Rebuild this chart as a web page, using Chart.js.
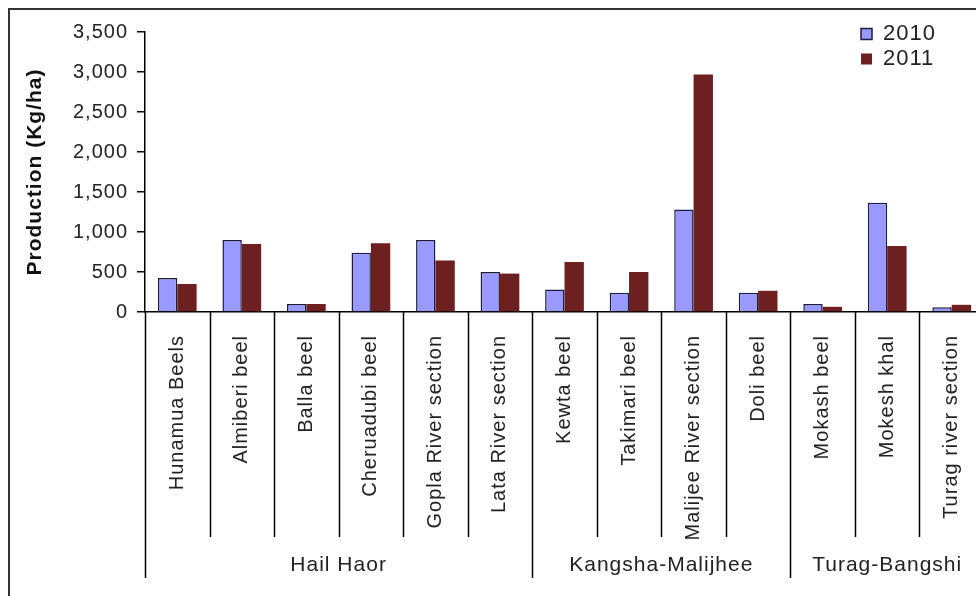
<!DOCTYPE html>
<html>
<head>
<meta charset="utf-8">
<script src="https://cdn.jsdelivr.net/npm/chart.js@4.4.1/dist/chart.umd.min.js"></script>
<style>
    html, body { margin: 0; padding: 0; width: 976px; height: 596px; overflow: hidden; background: #fff; }
    #frame { position: absolute; left: 8px; top: 8px; width: 1100px; height: 700px; border: 2px solid #333; }
    #wrap { position: absolute; left: 0; top: 0; width: 1000px; height: 596px; }
</style>
</head>
<body>
<div id="frame"></div>
<div id="wrap"><canvas id="productionChart"></canvas></div>
<script>
const categories = ['Hunamua Beels', 'Almiberi beel', 'Balla beel', 'Cheruadubi beel', 'Gopla River section',
    'Lata River section', 'Kewta beel', 'Takimari beel', 'Malijee River section', 'Doli beel',
    'Mokash beel', 'Mokesh khal', 'Turag river section'];
const groups = ['Hail Haor', 'Kangsha-Malijhee', 'Turag-Bangshi'];
const groupSizes = [6, 4, 3];
const years = ['2010', '2011'];
const values2010 = [425, 900, 100, 740, 900, 500, 280, 240, 1280, 240, 100, 1365, 60];
const values2011 = [350, 850, 100, 860, 645, 480, 625, 500, 2970, 265, 65, 825, 90];
const yTicks = [0, 500, 1000, 1500, 2000, 2500, 3000, 3500];

const FONT = '"Liberation Sans", Arial, sans-serif';

// group boundaries as category indexes: 0, 6, 10, 13
const bounds = [0];
groupSizes.forEach(n => bounds.push(bounds[bounds.length - 1] + n));

// divider lines under the axis + group names (second level of the category axis)
const axisDecor = {
    id: 'axisDecor',
    beforeLayout(chart) {
        chart.ctx.letterSpacing = '1px';
    },
    beforeDraw(chart) {
        chart.ctx.letterSpacing = '1px';
        chart.legend.left = 858;
        chart.legend.top = 20;
    },
    afterDraw(chart) {
        const ctx = chart.ctx;
        const x = chart.scales.x;
        const base = chart.chartArea.bottom;
        ctx.save();
        ctx.strokeStyle = '#000';
        ctx.lineWidth = 1.5;
        for (let i = 0; i <= categories.length; i++) {
            const px = Math.round(x.getPixelForValue(i - 0.5)) + 0.5;
            const end = bounds.includes(i) ? base + 266 : base + 225;
            ctx.beginPath();
            ctx.moveTo(px, base);
            ctx.lineTo(px, end);
            ctx.stroke();
        }
        ctx.font = '21px ' + FONT;
        ctx.fillStyle = '#222';
        ctx.textAlign = 'center';
        ctx.textBaseline = 'middle';
        groups.forEach((g, k) => {
            const a = x.getPixelForValue(bounds[k] - 0.5);
            const b = x.getPixelForValue(bounds[k + 1] - 0.5);
            ctx.fillText(g, (a + b) / 2, base + 253);
        });
        ctx.restore();
    }
};

const ctx = document.getElementById('productionChart').getContext('2d');
new Chart(ctx, {
    type: 'bar',
    data: {
        labels: categories,
        datasets: [
            {
                label: years[0],
                data: values2010,
                backgroundColor: '#9999FF',
                borderColor: '#1c1c40',
                borderWidth: 1.5,
                categoryPercentage: 0.6,
                barPercentage: 1
            },
            {
                label: years[1],
                data: values2011,
                backgroundColor: '#6E1F1F',
                borderColor: '#6E1F1F',
                borderWidth: 0,
                categoryPercentage: 0.6,
                barPercentage: 1
            }
        ]
    },
    options: {
        responsive: true,
        maintainAspectRatio: false,
        animation: false,
        layout: {
            padding: { left: 0, top: 32, right: 16, bottom: 0 }
        },
        plugins: {
            legend: {
                position: 'chartArea',
                align: 'start',
                labels: {
                    boxWidth: 11,
                    boxHeight: 11,
                    padding: 3,
                    color: '#222',
                    font: { family: FONT, size: 22 }
                }
            },
            tooltip: { enabled: false }
        },
        scales: {
            x: {
                grid: { display: false },
                border: { display: true, color: '#000', width: 1.5 },
                ticks: {
                    autoSkip: false,
                    minRotation: 90,
                    maxRotation: 90,
                    padding: 15,
                    color: '#222',
                    font: { family: FONT, size: 20 }
                },
                afterFit: function(scale) {
                    scale.height = 284;
                }
            },
            y: {
                min: 0,
                max: 3500,
                afterBuildTicks: function(scale) {
                    scale.ticks = yTicks.map(v => ({ value: v }));
                },
                grid: {
                    drawOnChartArea: false,
                    drawTicks: true,
                    tickLength: 8,
                    color: '#000',
                    lineWidth: 1.5
                },
                border: { display: true, color: '#000', width: 1.5 },
                ticks: {
                    padding: 9,
                    color: '#222',
                    font: { family: FONT, size: 20 },
                    callback: function(value) {
                        return value.toLocaleString('en-US');
                    }
                },
                title: {
                    display: true,
                    text: 'Production (Kg/ha)',
                    color: '#111',
                    padding: { top: 23, bottom: 0 },
                    font: { family: FONT, size: 21, weight: 'bold' }
                },
                afterFit: function(scale) {
                    scale.width = 145;
                }
            }
        }
    },
    plugins: [axisDecor]
});
</script>
</body>
</html>
